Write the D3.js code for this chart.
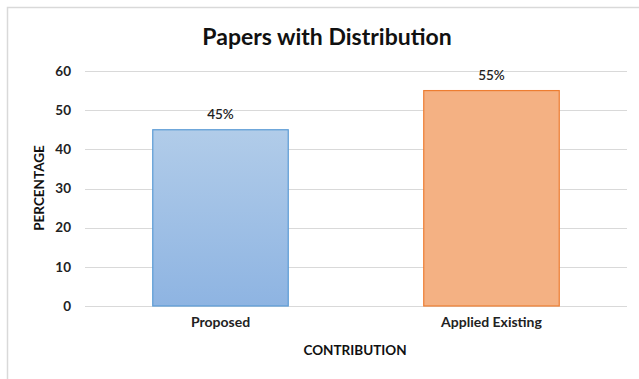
<!DOCTYPE html>
<html><head><meta charset="utf-8">
<script src="https://cdn.jsdelivr.net/npm/d3@7"></script>
<style>body{margin:0;background:#fff}svg{display:block}</style>
</head><body>
<svg id="chart" width="639" height="379"></svg>
<script>
const categories = ["Proposed", "Applied Existing"];
const values = [45, 55];
const valueLabels = ["45%", "55%"];
const yTicks = [0, 10, 20, 30, 40, 50, 60];
const title = "Papers with Distribution";
const xTitle = "CONTRIBUTION";
const yTitle = "PERCENTAGE";

const svg = d3.select("#chart");
const font = "Lato, 'Open Sans', sans-serif";

// outer border
svg.append("rect").attr("x", 7.5).attr("y", 7.5).attr("width", 660).attr("height", 400)
  .attr("fill", "none").attr("stroke", "#d9d9d9").attr("stroke-width", 1.5);

const defs = svg.append("defs");
const g1 = defs.append("linearGradient").attr("id", "blueGrad").attr("x1", 0).attr("y1", 0).attr("x2", 0).attr("y2", 1);
g1.append("stop").attr("offset", "0%").attr("stop-color", "#b1cce9");
g1.append("stop").attr("offset", "100%").attr("stop-color", "#8eb4e2");

const x = d3.scaleBand().domain(categories).range([85, 627]).paddingInner(0.5).paddingOuter(0.25);
const y = d3.scaleLinear().domain([0, 60]).range([306, 71]);

// gridlines
svg.append("g").selectAll("line").data(yTicks).join("line")
  .attr("x1", 85).attr("x2", 627)
  .attr("y1", d => Math.round(y(d)) + 0.5).attr("y2", d => Math.round(y(d)) + 0.5)
  .attr("stroke", "#d9d9d9").attr("stroke-width", 1.2);

// y axis labels
const yAxis = d3.axisLeft(y).tickValues(yTicks).tickSize(0).tickPadding(0);
const ya = svg.append("g").attr("transform", "translate(71,0)").call(yAxis);
ya.select(".domain").remove();
ya.selectAll("text").attr("font-family", font).attr("font-size", 13.5).attr("font-weight", "bold").attr("fill", "#222");

// bars
const fills = ["url(#blueGrad)", "#f4b183"];
const strokes = ["#5b9bd5", "#ed7d31"];
svg.append("g").selectAll("rect").data(values).join("rect")
  .attr("x", (d, i) => x(categories[i]))
  .attr("y", d => y(d))
  .attr("width", x.bandwidth())
  .attr("height", d => y(0) - y(d))
  .attr("fill", (d, i) => fills[i])
  .attr("stroke", (d, i) => strokes[i]).attr("stroke-width", 1.2);

// value labels
svg.append("g").selectAll("text").data(values).join("text")
  .attr("x", (d, i) => x(categories[i]) + x.bandwidth() / 2)
  .attr("y", d => y(d) - 11)
  .attr("text-anchor", "middle")
  .attr("font-family", font).attr("font-size", 13.5).attr("font-weight", 600).attr("fill", "#222")
  .text((d, i) => valueLabels[i]);

// x axis labels
const xAxis = d3.axisBottom(x).tickSize(0).tickPadding(0);
const xa = svg.append("g").attr("transform", "translate(0,315)").call(xAxis);
xa.select(".domain").remove();
xa.selectAll("text").attr("font-family", font).attr("font-size", 14).attr("font-weight", "bold").attr("fill", "#222").attr("dy", "0.85em");

// title
svg.append("text").attr("x", 327).attr("y", 45).attr("text-anchor", "middle")
  .attr("font-family", font).attr("font-size", 23).attr("font-weight", "bold").attr("fill", "#111")
  .text(title);

// axis titles
svg.append("text").attr("x", 355).attr("y", 355).attr("text-anchor", "middle")
  .attr("font-family", font).attr("font-size", 13.5).attr("font-weight", "bold").attr("fill", "#111")
  .text(xTitle);
svg.append("text").attr("transform", "translate(44,188) rotate(-90)").attr("text-anchor", "middle")
  .attr("font-family", font).attr("font-size", 13.5).attr("font-weight", "bold").attr("fill", "#111")
  .text(yTitle);
</script>
</body></html>
